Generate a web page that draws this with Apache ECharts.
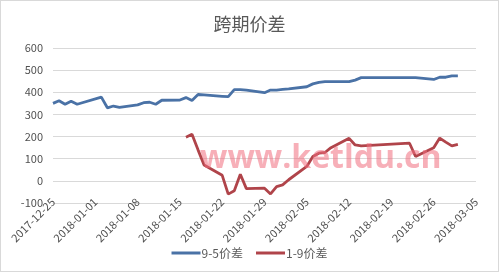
<!DOCTYPE html>
<html>
<head>
<meta charset="utf-8">
<script src="https://cdn.jsdelivr.net/npm/echarts@6/dist/echarts.min.js"></script>
<style>
html,body{margin:0;padding:0;background:#fff;}
#c{width:497px;height:270px;border:1px solid #d9d9d9;}
</style>
</head>
<body>
<div id="c"></div>
<script>
// ---- data ----
const titleText = '跨期价差';
const seriesNames = ['9-5价差', '1-9价差'];
const dates = [
  '2017-12-25','2017-12-26','2017-12-27','2017-12-28','2017-12-29',
  '2018-01-02','2018-01-03','2018-01-04','2018-01-05',
  '2018-01-08','2018-01-09','2018-01-10','2018-01-11','2018-01-12',
  '2018-01-15','2018-01-16','2018-01-17','2018-01-18','2018-01-19',
  '2018-01-22','2018-01-23','2018-01-24','2018-01-25','2018-01-26',
  '2018-01-29','2018-01-30','2018-01-31','2018-02-01','2018-02-02',
  '2018-02-05','2018-02-06','2018-02-07','2018-02-08','2018-02-09',
  '2018-02-12','2018-02-13','2018-02-14',
  '2018-02-22','2018-02-23',
  '2018-02-26','2018-02-27','2018-02-28','2018-03-01','2018-03-02'
];
const spread95 = [
  350,362,346,360,346,
  378,330,338,332,
  343,353,355,346,364,
  365,376,363,390,388,
  382,380,412,412,410,
  398,410,410,413,415,
  425,438,445,448,448,
  448,455,466,
  466,466,
  458,468,468,474,474
];
const spread19 = [
  null,null,null,null,null,
  null,null,null,null,
  null,null,null,null,null,
  null,197,210,140,72,
  25,-60,-45,30,-35,
  -33,-59,-26,-18,5,
  65,110,125,128,150,
  192,162,158,
  170,110,
  150,193,175,158,165
];
const axisStart = '2017-12-25';
const axisDays = 70;
const yTicks = [-100, 0, 100, 200, 300, 400, 500, 600];
const watermark = 'www.ketldu.cn';

// ---- helpers ----
function toUTC(s){ const p = s.split('-').map(Number); return Date.UTC(p[0], p[1]-1, p[2]); }
const base = toUTC(axisStart);
const DAY = 86400000;
function dayIdx(s){ return Math.round((toUTC(s) - base) / DAY); }
function fmt(v){
  const d = new Date(base + v * DAY);
  const mm = String(d.getUTCMonth()+1).padStart(2,'0');
  const dd = String(d.getUTCDate()).padStart(2,'0');
  return d.getUTCFullYear() + '-' + mm + '-' + dd;
}
const xs = dates.map(dayIdx);
const d95 = xs.map((x,i)=>[x, spread95[i]]);
const d19 = xs.map((x,i)=>[x, spread19[i]]).filter(p=>p[1]!==null);

const font = "'Noto Sans CJK SC', 'Noto Sans', sans-serif";
const chart = echarts.init(document.getElementById('c'), null, {renderer:'canvas'});
chart.setOption({
  animation: false,
  textStyle: { fontFamily: font },
  title: {
    text: titleText, left: 'center', top: 9,
    textStyle: { fontSize: 18, fontWeight: 'normal', color: '#595959', fontFamily: font }
  },
  grid: { left: 52, right: 22, top: 47, bottom: 68 },
  legend: {
    bottom: 7, left: 'center', itemGap: 13,
    itemWidth: 29, itemHeight: 3, icon: 'rect',
    textStyle: { fontSize: 12, color: '#595959', fontFamily: font, padding: [0,0,0,-4] },
    data: seriesNames
  },
  xAxis: {
    type: 'value', min: 0, max: axisDays, interval: 7,
    axisLine: { show: true, onZero: false, lineStyle: { color: '#d9d9d9' } },
    axisTick: { show: false },
    splitLine: { show: false },
    axisLabel: { rotate: 45, margin: -3, fontSize: 11, color: '#505050', formatter: fmt, fontFamily: font }
  },
  yAxis: {
    type: 'value', min: yTicks[0], max: yTicks[yTicks.length-1], interval: 100,
    axisLine: { show: false }, axisTick: { show: false },
    splitLine: { lineStyle: { color: '#d9d9d9', width: 1 } },
    axisLabel: { fontSize: 11, color: '#505050', margin: 10, fontFamily: font }
  },
  series: [
    { name: seriesNames[0], type: 'line', data: d95, showSymbol: false,
      lineStyle: { color: '#4a72a6', width: 2.8 }, itemStyle: { color: '#4a72a6' } },
    { name: seriesNames[1], type: 'line', data: d19, showSymbol: false,
      lineStyle: { color: '#b0444a', width: 2.8 }, itemStyle: { color: '#b0444a' } }
  ],
  graphic: [{
    type: 'text', left: 199, top: 142, z: 100, silent: true,
    style: { text: watermark, font: "bold 32px 'Open Sans', sans-serif", fill: 'rgba(240,110,125,0.55)' }
  }]
});
</script>
</body>
</html>
